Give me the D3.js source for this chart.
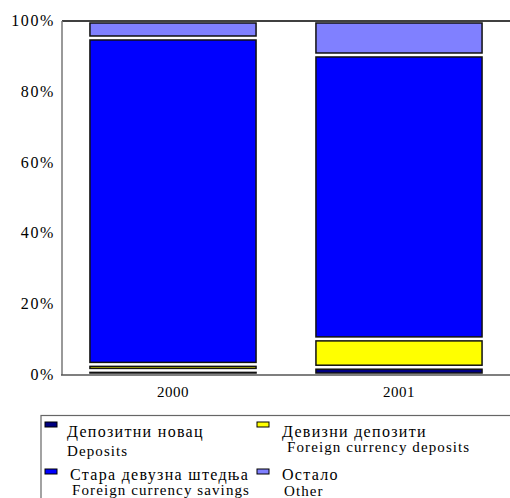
<!DOCTYPE html>
<html>
<head>
<meta charset="utf-8">
<script src="https://cdn.jsdelivr.net/npm/d3@7"></script>
<style>
  body { margin: 0; background: #fff; }
  text { font-family: "Liberation Serif", "Times New Roman", serif; fill: #000; }
</style>
</head>
<body>
<script>
// ---------------------- data ----------------------
var years = ["2000", "2001"];
var deposits = [1.3, 2.2];        // Депозитни новац
var fxDeposits = [1.7, 8.0];      // Девизни депозити
var fxSavings = [92.2, 80.2];     // Стара девизна штедња
var other = [4.8, 9.6];           // Остало
var yTicks = [0, 20, 40, 60, 80, 100];

var seriesNames = ["deposits", "fxDeposits", "fxSavings", "other"];
var seriesColors = ["#000080", "#ffff00", "#0000ff", "#8080ff"];

var rows = years.map(function (y, i) {
  return { year: y, deposits: deposits[i], fxDeposits: fxDeposits[i], fxSavings: fxSavings[i], other: other[i] };
});

// ---------------------- svg ----------------------
var svg = d3.select("body")
  .append("svg")
  .attr("width", 510)
  .attr("height", 498);

var x = d3.scaleBand()
  .domain(years)
  .range([60, 512])
  .paddingInner(0.265)
  .paddingOuter(0.1325);

var y = d3.scaleLinear()
  .domain([0, 100])
  .range([375, 21]);

// plot frame
svg.append("line").attr("x1", 62).attr("x2", 510).attr("y1", 21).attr("y2", 21)
  .attr("stroke", "#000").attr("stroke-width", 1.5);
svg.append("line").attr("x1", 62).attr("x2", 62).attr("y1", 21).attr("y2", 375)
  .attr("stroke", "#777").attr("stroke-width", 1.5);

// stacked bars, each segment inset so a white gap shows between them
var stack = d3.stack().keys(seriesNames)(rows);

svg.selectAll("g.layer")
  .data(stack)
  .enter()
  .append("g")
  .attr("class", "layer")
  .attr("fill", function (d, i) { return seriesColors[i]; })
  .selectAll("rect")
  .data(function (d) { return d; })
  .enter()
  .append("rect")
  .attr("x", function (d) { return x(d.data.year); })
  .attr("width", x.bandwidth())
  .attr("y", function (d) { return y(d[1]) + 2; })
  .attr("height", function (d) { return Math.max(0.3, y(d[0]) - y(d[1]) - 4); })
  .attr("stroke", "#111")
  .attr("stroke-width", 1.5);

// bottom axis line
svg.append("line").attr("x1", 61).attr("x2", 510).attr("y1", 375).attr("y2", 375)
  .attr("stroke", "#555").attr("stroke-width", 1.5);

// y tick labels
svg.selectAll("text.ytick")
  .data(yTicks)
  .enter()
  .append("text")
  .attr("class", "ytick")
  .attr("x", 55)
  .attr("y", function (d) { return y(d) + 5; })
  .attr("text-anchor", "end")
  .style("font-size", "16px")
  .style("letter-spacing", "1.6px")
  .text(function (d) { return d + "%"; });

// x labels
svg.selectAll("text.xlab")
  .data(years)
  .enter()
  .append("text")
  .attr("class", "xlab")
  .attr("x", function (d) { return x(d) + x.bandwidth() / 2; })
  .attr("y", 397)
  .attr("text-anchor", "middle")
  .style("font-size", "15px")
  .style("letter-spacing", "0.5px")
  .text(function (d) { return d; });

// ---------------------- legend ----------------------
var legendSr = ["Депозитни новац", "Девизни депозити", "Стара девузна штедња", "Остало"];
var legendEn = ["Deposits", "Foreign currency deposits", "Foreign currency savings", "Other"];
var legendPos = [[45, 422], [257, 422], [45, 469], [257, 469]];
var legendSrPos = [[67, 437], [282, 437], [70, 480], [282, 480]];
var legendEnPos = [[67, 456], [287, 452], [72, 495], [284, 496]];

svg.append("rect")
  .attr("x", 41).attr("y", 415.5)
  .attr("width", 480).attr("height", 100)
  .attr("fill", "none")
  .attr("stroke", "#666")
  .attr("stroke-width", 1.2);

var leg = svg.selectAll("g.leg")
  .data(legendSr)
  .enter()
  .append("g")
  .attr("class", "leg");

leg.append("rect")
  .attr("x", function (d, i) { return legendPos[i][0]; })
  .attr("y", function (d, i) { return legendPos[i][1]; })
  .attr("width", 12)
  .attr("height", 5)
  .attr("fill", function (d, i) { return seriesColors[i]; })
  .attr("stroke", "#000")
  .attr("stroke-width", 1);

leg.append("text")
  .attr("x", function (d, i) { return legendSrPos[i][0]; })
  .attr("y", function (d, i) { return legendSrPos[i][1]; })
  .style("font-size", "16px")
  .style("letter-spacing", "1.3px")
  .text(function (d) { return d; });

leg.append("text")
  .attr("x", function (d, i) { return legendEnPos[i][0]; })
  .attr("y", function (d, i) { return legendEnPos[i][1]; })
  .style("font-size", "15px")
  .style("letter-spacing", "1.1px")
  .text(function (d, i) { return legendEn[i]; });
</script>
</body>
</html>
